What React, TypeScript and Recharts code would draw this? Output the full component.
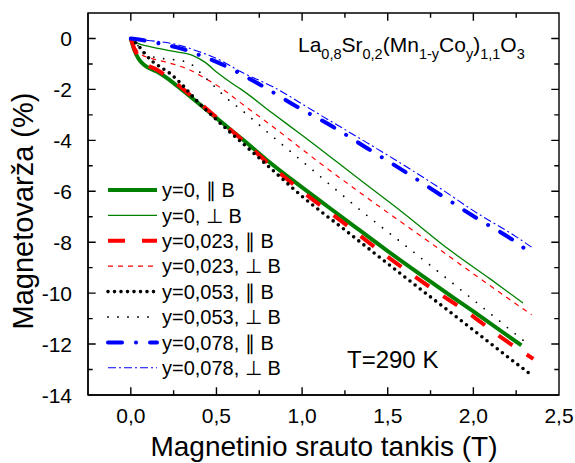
import { LineChart, Line, XAxis, YAxis, Legend } from "recharts"

// field (T) and magnetoresistance (%) for each sample / orientation
const bY0Par = [0, 0.02, 0.045, 0.08, 0.155, 0.25, 0.35, 0.45, 0.55, 0.65, 0.79, 1.0, 1.25, 1.5, 1.75, 2.0, 2.28]
const mrY0Par = [0, -0.45, -0.8, -1.05, -1.31, -1.75, -2.3, -2.85, -3.4, -3.95, -4.75, -5.85, -7.1, -8.35, -9.55, -10.72, -12.05]

const bY0Perp = [0, 0.045, 0.1, 0.16, 0.26, 0.36, 0.43, 0.51, 0.59, 0.64, 0.83, 1.0, 1.34, 1.6, 1.86, 2.1, 2.29]
const mrY0Perp = [0, -0.2, -0.3, -0.39, -0.52, -0.66, -0.92, -1.37, -1.76, -1.98, -2.95, -3.8, -5.56, -6.9, -8.3, -9.45, -10.39]

const bY023Par = [0, 0.02, 0.045, 0.08, 0.155, 0.25, 0.35, 0.45, 0.55, 0.65, 0.79, 1.0, 1.25, 1.5, 1.75, 2.0, 2.15, 2.35]
const mrY023Par = [0, -0.4, -0.72, -0.97, -1.24, -1.68, -2.24, -2.81, -3.4, -3.98, -4.83, -6.0, -7.28, -8.58, -9.78, -10.92, -11.68, -12.58]

const bY023Perp = [0, 0.03, 0.06, 0.12, 0.2, 0.27, 0.345, 0.43, 0.53, 0.64, 0.83, 1.12, 1.36, 1.79, 1.95, 2.34]
const mrY023Perp = [0, -0.4, -0.62, -0.78, -0.92, -1.05, -1.24, -1.55, -1.96, -2.52, -3.47, -4.97, -6.16, -8.22, -9.0, -10.85]

const bY053Par = [0, 0.04, 0.08, 0.13, 0.17, 0.22, 0.3, 0.365, 0.41, 0.47, 0.55, 0.65, 0.8, 1.0, 1.25, 1.5, 1.75, 2.0, 2.2, 2.35]
const mrY053Par = [0, -0.25, -0.59, -0.92, -1.11, -1.33, -1.82, -2.3, -2.62, -3.0, -3.5, -4.1, -5.0, -6.2, -7.52, -8.84, -10.15, -11.45, -12.5, -13.27]

const bY053Perp = [0, 0.05, 0.11, 0.2, 0.3, 0.37, 0.41, 0.46, 0.5, 0.55, 0.645, 0.83, 1.05, 1.375, 1.61, 1.94, 2.31]
const mrY053Perp = [0, -0.33, -0.68, -0.8, -0.88, -1.1, -1.37, -1.7, -1.96, -2.29, -2.8, -3.86, -5.1, -6.93, -8.17, -9.94, -11.96]

const bY078Par = [0, 0.1, 0.18, 0.29, 0.4, 0.52, 0.74, 0.97, 1.18, 1.38, 1.6, 1.81, 2.02, 2.23, 2.33]
const mrY078Par = [0, -0.1, -0.22, -0.39, -0.65, -0.98, -1.76, -2.68, -3.47, -4.31, -5.23, -6.15, -7.06, -7.91, -8.4]

const bY078Perp = [0, 0.1, 0.2, 0.3, 0.4, 0.52, 0.64, 0.83, 1.08, 1.38, 1.6, 1.81, 2.02, 2.23, 2.35]
const mrY078Perp = [0, -0.08, -0.15, -0.3, -0.52, -0.85, -1.3, -1.9, -2.9, -4.1, -5.0, -5.9, -6.85, -7.7, -8.24]

const xDomain = [-0.25, 2.5]
const yDomain = [-14, 1]
const xTicks = [0, 0.25, 0.5, 0.75, 1, 1.25, 1.5, 1.75, 2, 2.25, 2.5]
const yTicks = [-14, -13, -12, -11, -10, -9, -8, -7, -6, -5, -4, -3, -2, -1, 0]

const toPoints = (b: number[], mr: number[]) => b.map((v, i) => ({ b: v, mr: mr[i] }))

const series = [
  { id: "y0par", name: "y=0, \u2225 B", data: toPoints(bY0Par, mrY0Par), color: "#008000", width: 4, dash: undefined, cap: "butt" },
  { id: "y0perp", name: "y=0, \u22A5 B", data: toPoints(bY0Perp, mrY0Perp), color: "#008000", width: 1.3, dash: undefined, cap: "butt" },
  { id: "y023par", name: "y=0,023, \u2225 B", data: toPoints(bY023Par, mrY023Par), color: "#ff0000", width: 4, dash: "17 17", cap: "butt" },
  { id: "y023perp", name: "y=0,023, \u22A5 B", data: toPoints(bY023Perp, mrY023Perp), color: "#ff0000", width: 1.2, dash: "5 5", cap: "butt" },
  { id: "y053par", name: "y=0,053, \u2225 B", data: toPoints(bY053Par, mrY053Par), color: "#000000", width: 3.6, dash: "0 6.5", cap: "round" },
  { id: "y053perp", name: "y=0,053, \u22A5 B", data: toPoints(bY053Perp, mrY053Perp), color: "#000000", width: 1.8, dash: "0 10", cap: "round" },
  { id: "y078par", name: "y=0,078, \u2225 B", data: toPoints(bY078Par, mrY078Par), color: "#0000ff", width: 4, dash: "14 14 0.01 14", cap: "round" },
  { id: "y078perp", name: "y=0,078, \u22A5 B", data: toPoints(bY078Perp, mrY078Perp), color: "#0000ff", width: 1.1, dash: "8 3 2 3", cap: "butt" },
]

const W = 575
const H = 463
const MARGIN = { top: 13, right: 16, bottom: 0, left: 0 }
const Y_AXIS_W = 88
const X_AXIS_H = 68
// plot rectangle that follows from the margins and axis sizes above
const PLOT = {
  left: MARGIN.left + Y_AXIS_W,
  top: MARGIN.top,
  right: W - MARGIN.right,
  bottom: H - MARGIN.bottom - X_AXIS_H,
}

const FONT = "Arial, 'Liberation Sans', sans-serif"

const isMajorX = (v: number) => Math.abs(v * 2 - Math.round(v * 2)) < 1e-6
const isMajorY = (v: number) => Math.abs(v % 2) < 1e-6
const fmtX = (v: number) => v.toFixed(1).replace(".", ",")

const sx = (v: number) => PLOT.left + ((v - xDomain[0]) / (xDomain[1] - xDomain[0])) * (PLOT.right - PLOT.left)
const sy = (v: number) => PLOT.bottom - ((v - yDomain[0]) / (yDomain[1] - yDomain[0])) * (PLOT.bottom - PLOT.top)

const BottomLabel = ({ x, y, payload }: any) =>
  isMajorX(payload.value) ? (
    <text x={x} y={y + 28} textAnchor="middle" fontSize={21} fontFamily={FONT} fill="#000">
      {fmtX(payload.value)}
    </text>
  ) : (
    <g />
  )

const LeftLabel = ({ x, y, payload }: any) =>
  isMajorY(payload.value) ? (
    <text x={x - 16} y={y} dy="0.36em" textAnchor="end" fontSize={21} fontFamily={FONT} fill="#000">
      {payload.value}
    </text>
  ) : (
    <g />
  )

// boxed frame with inward ticks on all four sides
const Frame = () => {
  const segs: number[][] = [
    [PLOT.left, PLOT.top, PLOT.right, PLOT.top],
    [PLOT.right, PLOT.top, PLOT.right, PLOT.bottom],
    [PLOT.left, PLOT.bottom, PLOT.right, PLOT.bottom],
    [PLOT.left, PLOT.top, PLOT.left, PLOT.bottom],
  ]
  xTicks.forEach((t) => {
    const len = isMajorX(t) ? 7 : 4
    const x = sx(t)
    segs.push([x, PLOT.bottom, x, PLOT.bottom - len], [x, PLOT.top, x, PLOT.top + len])
  })
  yTicks.forEach((t) => {
    const len = isMajorY(t) ? 7 : 4
    const y = sy(t)
    segs.push([PLOT.left, y, PLOT.left + len, y], [PLOT.right, y, PLOT.right - len, y])
  })
  const d = segs.map(([x1, y1, x2, y2]) => `M${x1} ${y1}L${x2} ${y2}`).join(" ")
  return <path d={d} stroke="#000" strokeWidth={1.4} fill="none" strokeLinecap="square" />
}

const SeriesLegend = () => (
  <svg width={230} height={210} style={{ display: "block" }}>
    {series.map((s, i) => {
      const cy = 15 + i * 25.4
      return (
        <g key={s.id}>
          <line
            x1={8}
            x2={57}
            y1={cy}
            y2={cy}
            stroke={s.color}
            strokeWidth={s.width}
            strokeDasharray={s.dash}
            strokeLinecap={s.cap as any}
          />
          <text x={62} y={cy} dy="0.36em" fontSize={20} fontFamily={FONT} fill="#000">
            {s.name}
          </text>
        </g>
      )
    })}
  </svg>
)

export default function App() {
  return (
    <div style={{ position: "absolute", left: 0, top: 0, width: W, height: H, background: "#fff" }}>
      <LineChart width={W} height={H} margin={MARGIN}>
        <XAxis
          dataKey="b"
          type="number"
          domain={xDomain}
          ticks={xTicks}
          interval={0}
          height={X_AXIS_H}
          tickSize={0}
          tickMargin={0}
          tickLine={false}
          tick={<BottomLabel />}
          axisLine={{ stroke: "#000", strokeWidth: 1.4 }}
          allowDataOverflow
        />
        <YAxis
          type="number"
          domain={yDomain}
          ticks={yTicks}
          interval={0}
          width={Y_AXIS_W}
          tickSize={0}
          tickMargin={0}
          tickLine={false}
          tick={<LeftLabel />}
          axisLine={{ stroke: "#000", strokeWidth: 1.4 }}
          allowDataOverflow
        />
        {series.map((s) => (
          <Line
            key={s.id}
            data={s.data}
            dataKey="mr"
            name={s.name}
            type="monotone"
            stroke={s.color}
            strokeWidth={s.width}
            strokeDasharray={s.dash}
            strokeLinecap={s.cap as any}
            dot={false}
            activeDot={false}
            isAnimationActive={false}
          />
        ))}
        <Legend
          layout="horizontal"
          verticalAlign="middle"
          align="center"
          content={() => <SeriesLegend />}
          wrapperStyle={{ left: 100, top: 175, width: 230, height: 210 }}
        />
      </LineChart>

      {/* frame, axis titles and annotations */}
      <svg width={W} height={H} style={{ position: "absolute", left: 0, top: 0, pointerEvents: "none" }}>
        <Frame />
        <text x={324} y={456} textAnchor="middle" fontSize={28} fontFamily={FONT} fill="#000">
          Magnetinio srauto tankis (T)
        </text>
        <text transform="translate(33,211) rotate(-90)" textAnchor="middle" fontSize={29} fontFamily={FONT} fill="#000">
          Magnetovarža (%)
        </text>
        <text x={298} y={52} fontSize={21} fontFamily={FONT} fill="#000">
          La<tspan fontSize={14.5} dy={7}>0,8</tspan>
          <tspan dy={-7}>Sr</tspan>
          <tspan fontSize={14.5} dy={7}>0,2</tspan>
          <tspan dy={-7}>(Mn</tspan>
          <tspan fontSize={14.5} dy={7}>1-y</tspan>
          <tspan dy={-7}>Co</tspan>
          <tspan fontSize={14.5} dy={7}>y</tspan>
          <tspan dy={-7}>)</tspan>
          <tspan fontSize={14.5} dy={7}>1,1</tspan>
          <tspan dy={-7}>O</tspan>
          <tspan fontSize={14.5} dy={7}>3</tspan>
        </text>
        <text x={347} y={368} fontSize={24} fontFamily={FONT} fill="#000">
          T=290 K
        </text>
      </svg>
    </div>
  )
}
